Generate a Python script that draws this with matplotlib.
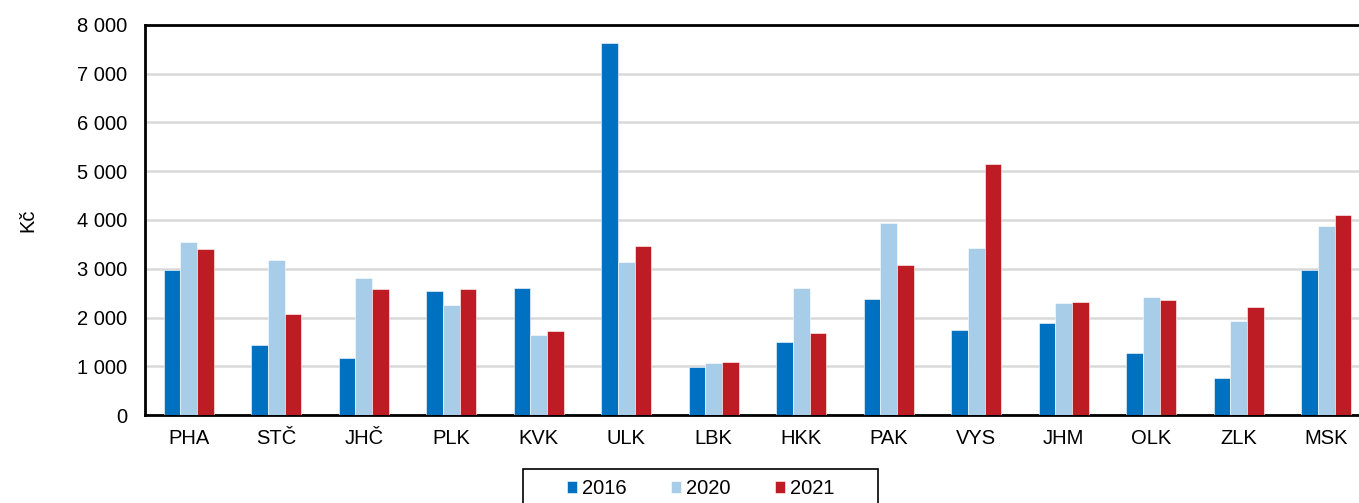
import matplotlib
matplotlib.use("Agg")
import matplotlib.pyplot as plt
from matplotlib.patches import Rectangle
import numpy as np

categories = ["PHA", "STČ", "JHČ", "PLK", "KVK", "ULK", "LBK", "HKK", "PAK", "VYS", "JHM", "OLK", "ZLK", "MSK"]
v2016 = [2975, 1440, 1165, 2545, 2600, 7615, 995, 1500, 2385, 1748, 1895, 1275, 760, 2980]
v2020 = [3550, 3175, 2810, 2250, 1645, 3140, 1075, 2608, 3940, 3422, 2300, 2420, 1935, 3885]
v2021 = [3402, 2080, 2577, 2577, 1727, 3469, 1090, 1688, 3075, 5150, 2322, 2370, 2215, 4096]
series_labels = ["2016", "2020", "2021"]
colors = ["#0070C0", "#A7CDE8", "#BE1C24"]

plt.rcParams['font.family'] = ['Liberation Sans', 'DejaVu Sans']
FS = 14.5

fig = plt.figure(figsize=(13.59, 5.03), dpi=100)
ax = fig.add_axes([145/1359, 87.7/503, 1225/1359, 390.6/503])

x = np.arange(len(categories))
w = 0.19
for i, (vals, lab, c) in enumerate(zip([v2016, v2020, v2021], series_labels, colors)):
    ax.bar(x + (i - 1) * w, vals, width=w, color=c, label=lab, zorder=3,
           edgecolor='white', linewidth=0.4)

ax.set_xlim(-0.5, len(categories) - 0.5)
ax.set_ylim(0, 8000)
ax.set_yticks(np.arange(0, 8001, 1000))
ax.set_yticklabels([f"{v:,}".replace(",", " ") for v in range(0, 8001, 1000)])
ax.set_xticks(x)
ax.set_xticklabels(categories)
ax.tick_params(axis='both', length=0, labelsize=FS)
ax.tick_params(axis='y', pad=13)
ax.tick_params(axis='x', pad=10)
ax.yaxis.grid(True, color='#d9d9d9', linewidth=1.8, zorder=0)
ax.set_axisbelow(True)
for s in ['left', 'bottom', 'top']:
    ax.spines[s].set_color('black')
    ax.spines[s].set_linewidth(2)
ax.spines['right'].set_visible(False)

ax.set_ylabel("Kč", fontsize=FS, labelpad=28)

handles, labels = ax.get_legend_handles_labels()
leg = fig.legend(handles, labels, loc='upper left', bbox_to_anchor=(567/1359, 1 - 479/503), ncol=3,
                 fontsize=FS, frameon=False,
                 handlelength=0.5, handleheight=0.5, handletextpad=0.25,
                 columnspacing=2.2, borderpad=0.0, borderaxespad=0.0)
fig.patches.append(Rectangle((523/1359, -0.05), (878 - 523)/1359, 0.05 + (503 - 469)/503,
                             transform=fig.transFigure, fill=False, edgecolor='black',
                             linewidth=1.2, figure=fig))

fig.savefig("out.png", dpi=100)
